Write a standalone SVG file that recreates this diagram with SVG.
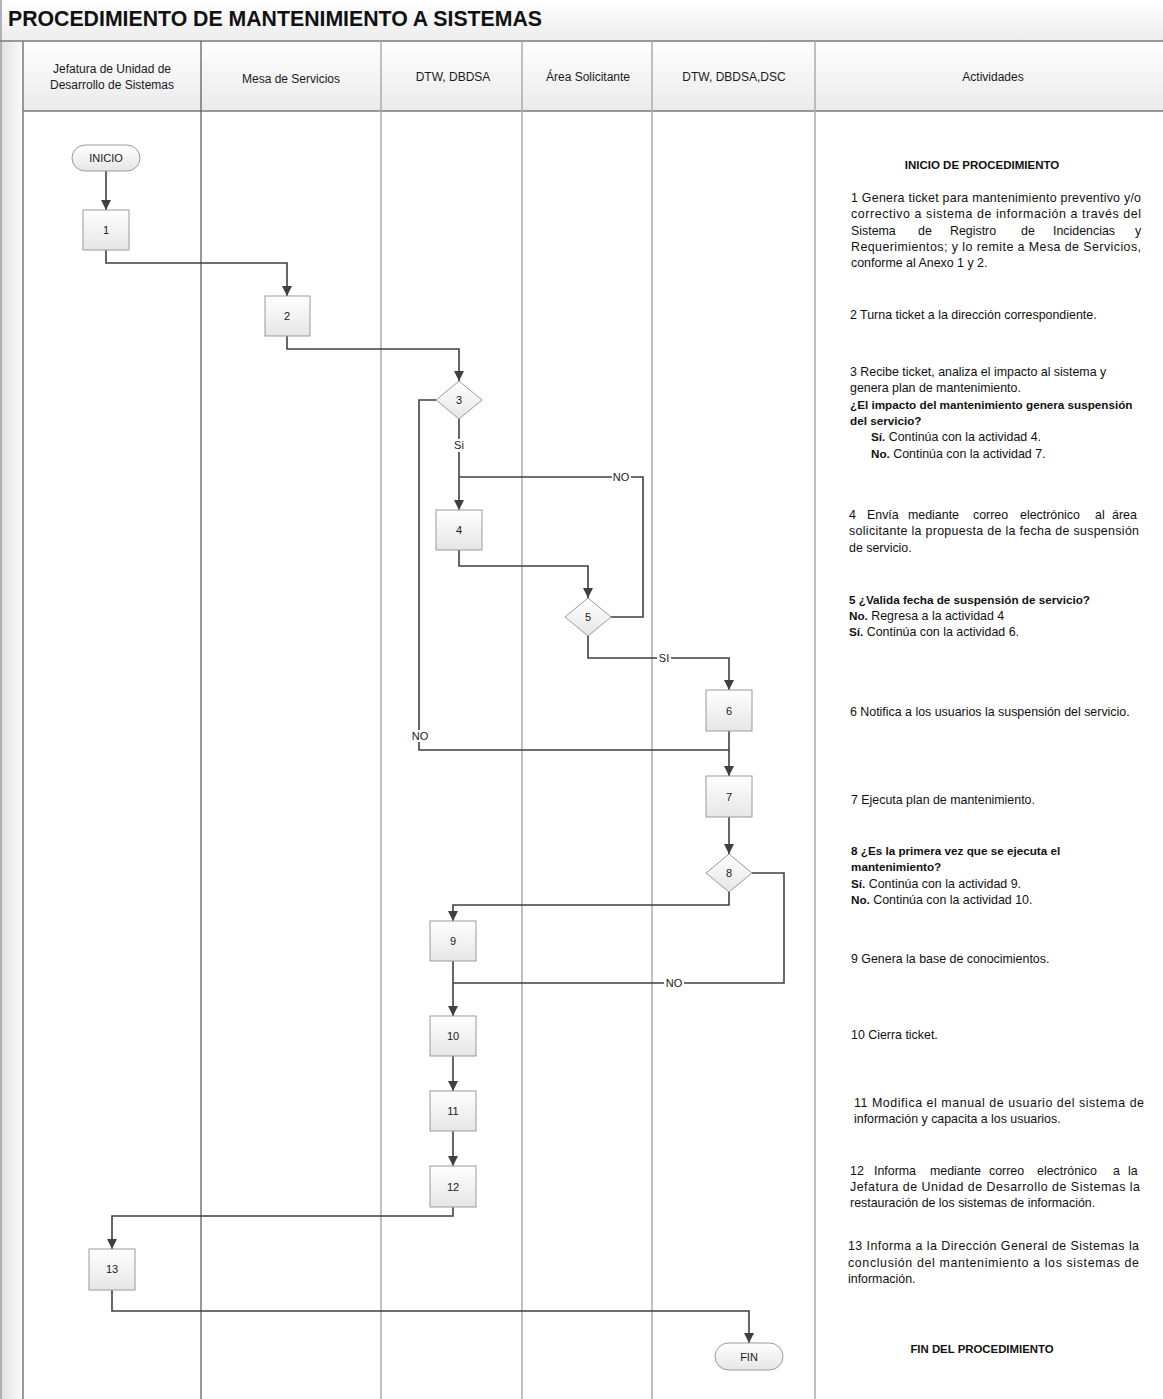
<svg xmlns="http://www.w3.org/2000/svg" width="1163" height="1399" viewBox="0 0 1163 1399">
<defs>
<linearGradient id="gTitle" x1="0" y1="0" x2="0" y2="1"><stop offset="0" stop-color="#ffffff"/><stop offset="1" stop-color="#ececec"/></linearGradient>
<linearGradient id="gHead" x1="0" y1="0" x2="0" y2="1"><stop offset="0" stop-color="#ffffff"/><stop offset="1" stop-color="#eaeaea"/></linearGradient>
<linearGradient id="gGut" x1="0" y1="0" x2="1" y2="0"><stop offset="0" stop-color="#e2e2e2"/><stop offset="1" stop-color="#fbfbfb"/></linearGradient>
<linearGradient id="gNode" x1="0" y1="0" x2="0" y2="1"><stop offset="0" stop-color="#ffffff"/><stop offset="1" stop-color="#e6e6e6"/></linearGradient>
<marker id="arr" viewBox="0 0 10 10" refX="10" refY="5" markerWidth="10" markerHeight="10" markerUnits="userSpaceOnUse" orient="auto"><path d="M0,0 L10,5 L0,10 z" fill="#404040"/></marker>
</defs>
<style>
.node{fill:url(#gNode);stroke:#9a9a9a;stroke-width:1}
.nt{font-family:"Liberation Sans",Arial,sans-serif;font-size:11px;fill:#1a1a1a;text-anchor:middle}
.ht{font-family:"Liberation Sans",Arial,sans-serif;font-size:12px;fill:#1a1a1a;text-anchor:middle}
.c{fill:none;stroke:#404040;stroke-width:1.6}
.ca{fill:none;stroke:#404040;stroke-width:1.6;marker-end:url(#arr)}
.lab{font-family:"Liberation Sans",Arial,sans-serif;font-size:11px;fill:#1a1a1a;text-anchor:middle}
.tx{font-family:"Liberation Sans",Arial,sans-serif;font-size:12.4px;fill:#111}
.b{font-weight:bold;font-size:11.7px}
.lane{stroke:#ababab;stroke-width:1.5}
</style>
<rect x="0" y="0" width="1163" height="1399" fill="#ffffff"/>
<rect x="1" y="0" width="1162" height="41" fill="url(#gTitle)"/>
<text x="8" y="26" font-family="Liberation Sans,Arial,sans-serif" font-size="21.2" font-weight="bold" fill="#111" textLength="534" lengthAdjust="spacingAndGlyphs">PROCEDIMIENTO DE MANTENIMIENTO A SISTEMAS</text>
<rect x="1" y="41" width="22" height="1358" fill="url(#gGut)"/>
<rect x="23" y="41" width="1140" height="70" fill="url(#gHead)"/>
<line x1="1" y1="0" x2="1" y2="1399" stroke="#9a9a9a" stroke-width="1.5"/>
<line x1="0" y1="41" x2="1163" y2="41" stroke="#7a7a7a" stroke-width="1.5"/>
<line x1="23" y1="111" x2="1163" y2="111" stroke="#7a7a7a" stroke-width="1.5"/>
<line x1="23" y1="41" x2="23" y2="1399" stroke="#7a7a7a" stroke-width="1.5"/>
<line x1="201" y1="41" x2="201" y2="1399" stroke="#555" stroke-width="1.2"/>
<line class="lane" x1="381" y1="41" x2="381" y2="1399"/>
<line class="lane" x1="522" y1="41" x2="522" y2="1399"/>
<line class="lane" x1="652" y1="41" x2="652" y2="1399"/>
<line class="lane" x1="815" y1="41" x2="815" y2="1399"/>
<g id="headers">
<text class="ht" x="112" y="73">Jefatura de Unidad de</text>
<text class="ht" x="112" y="89">Desarrollo de Sistemas</text>
<text class="ht" x="291" y="83">Mesa de Servicios</text>
<text class="ht" x="453" y="81">DTW, DBDSA</text>
<text class="ht" x="588" y="81">Área Solicitante</text>
<text class="ht" x="734" y="81">DTW, DBDSA,DSC</text>
<text class="ht" x="993" y="81">Actividades</text>
</g>
<g id="connectors">
<path class="ca" d="M106,171 L106,210"/>
<path class="ca" d="M106,250 L106,263 L287,263 L287,296"/>
<path class="ca" d="M287,336 L287,349 L459,349 L459,381"/>
<path class="ca" d="M459,419 L459,510"/>
<path class="c" d="M436,400 L419,400 L419,750 L729,750"/>
<path class="ca" d="M459,550 L459,566 L588,566 L588,598"/>
<path class="c" d="M611,617 L643,617 L643,477 L459,477"/>
<path class="ca" d="M588,636 L588,658 L729,658 L729,690"/>
<path class="ca" d="M729,731 L729,776"/>
<path class="ca" d="M729,817 L729,854"/>
<path class="ca" d="M729,892 L729,905 L453,905 L453,921"/>
<path class="c" d="M752,873 L784,873 L784,983 L453,983"/>
<path class="ca" d="M453,961 L453,1016"/>
<path class="ca" d="M453,1056 L453,1091"/>
<path class="ca" d="M453,1131 L453,1166"/>
<path class="ca" d="M453,1207 L453,1216 L112,1216 L112,1249"/>
<path class="ca" d="M112,1290 L112,1311 L749,1311 L749,1343"/>
<rect x="452" y="439" width="14" height="13" fill="#fff"/>
<text class="lab" x="459" y="449">Si</text>
<rect x="612" y="471" width="19" height="12" fill="#fff"/>
<text class="lab" x="621" y="481">NO</text>
<rect x="657" y="652" width="14" height="12" fill="#fff"/>
<text class="lab" x="664" y="662">SI</text>
<rect x="411" y="730" width="19" height="12" fill="#fff"/>
<text class="lab" x="420" y="740">NO</text>
<rect x="664" y="977" width="20" height="12" fill="#fff"/>
<text class="lab" x="674" y="987">NO</text>
</g>
<g id="n-inicio"><rect class="node" x="72" y="145" width="68" height="26" rx="13"/><text class="nt" x="106" y="162">INICIO</text></g>
<g id="n1"><rect class="node" x="83" y="210" width="46" height="40"/><text class="nt" x="106" y="234">1</text></g>
<g id="n2"><rect class="node" x="265" y="296" width="45" height="40"/><text class="nt" x="287" y="320">2</text></g>
<g id="n3"><path class="node" d="M459,381 L482,400 L459,419 L436,400 z"/><text class="nt" x="459" y="404">3</text></g>
<g id="n4"><rect class="node" x="436" y="510" width="46" height="40"/><text class="nt" x="459" y="534">4</text></g>
<g id="n5"><path class="node" d="M588,598 L611,617 L588,636 L565,617 z"/><text class="nt" x="588" y="621">5</text></g>
<g id="n6"><rect class="node" x="706" y="690" width="46" height="41"/><text class="nt" x="729" y="715">6</text></g>
<g id="n7"><rect class="node" x="706" y="776" width="46" height="41"/><text class="nt" x="729" y="801">7</text></g>
<g id="n8"><path class="node" d="M729,854 L752,873 L729,892 L706,873 z"/><text class="nt" x="729" y="877">8</text></g>
<g id="n9"><rect class="node" x="430" y="921" width="46" height="40"/><text class="nt" x="453" y="945">9</text></g>
<g id="n10"><rect class="node" x="430" y="1016" width="46" height="40"/><text class="nt" x="453" y="1040">10</text></g>
<g id="n11"><rect class="node" x="430" y="1091" width="46" height="40"/><text class="nt" x="453" y="1115">11</text></g>
<g id="n12"><rect class="node" x="430" y="1166" width="46" height="41"/><text class="nt" x="453" y="1191">12</text></g>
<g id="n13"><rect class="node" x="89" y="1249" width="46" height="41"/><text class="nt" x="112" y="1273">13</text></g>
<g id="n-fin"><rect class="node" x="715" y="1343" width="68" height="27" rx="13.5"/><text class="nt" x="749" y="1361">FIN</text></g>
<g id="actividades">
<text class="tx b" x="982" y="169" text-anchor="middle" style="font-size:11.5px">INICIO DE PROCEDIMIENTO</text>
<text class="tx" x="851" y="202" textLength="290" lengthAdjust="spacing">1 Genera ticket para mantenimiento preventivo y/o</text>
<text class="tx" x="851" y="218" textLength="290" lengthAdjust="spacing">correctivo a sistema de información a través del</text>
<text class="tx" y="235"><tspan x="851">Sistema</tspan><tspan x="918">de</tspan><tspan x="950">Registro</tspan><tspan x="1021">de</tspan><tspan x="1053">Incidencias</tspan><tspan x="1135">y</tspan></text>
<text class="tx" x="851" y="251" textLength="290" lengthAdjust="spacing">Requerimientos; y lo remite a Mesa de Servicios,</text>
<text class="tx" x="851" y="267">conforme al Anexo 1 y 2.</text>
<text class="tx" x="850" y="319">2 Turna ticket a la dirección correspondiente.</text>
<text class="tx" x="850" y="376">3 Recibe ticket,  analiza el impacto al sistema y</text>
<text class="tx" x="850" y="392">genera plan de mantenimiento.</text>
<text class="tx b" x="850" y="409">¿El impacto del mantenimiento genera suspensión</text>
<text class="tx b" x="850" y="425">del servicio?</text>
<text class="tx" x="871" y="441"><tspan class="b">Sí.</tspan> Continúa con la actividad 4.</text>
<text class="tx" x="871" y="458"><tspan class="b">No.</tspan> Continúa con la actividad 7.</text>
<text class="tx" y="519"><tspan x="849">4</tspan><tspan x="867">Envía</tspan><tspan x="908">mediante</tspan><tspan x="973">correo</tspan><tspan x="1020">electrónico</tspan><tspan x="1095">al</tspan><tspan x="1112">área</tspan></text>
<text class="tx" x="849" y="535" textLength="290" lengthAdjust="spacing">solicitante la propuesta de la fecha de suspensión</text>
<text class="tx" x="849" y="552">de servicio.</text>
<text class="tx b" x="849" y="604">5 ¿Valida fecha de suspensión de servicio?</text>
<text class="tx" x="849" y="620"><tspan class="b">No.</tspan> Regresa a la actividad 4</text>
<text class="tx" x="849" y="636"><tspan class="b">Sí.</tspan> Continúa con la actividad 6.</text>
<text class="tx" x="850" y="716">6  Notifica a los usuarios la suspensión del servicio.</text>
<text class="tx" x="851" y="804">7 Ejecuta plan de mantenimiento.</text>
<text class="tx b" x="851" y="855">8 ¿Es la primera vez que se ejecuta el</text>
<text class="tx b" x="851" y="871">mantenimiento?</text>
<text class="tx" x="851" y="888"><tspan class="b">Sí.</tspan> Continúa con la actividad 9.</text>
<text class="tx" x="851" y="904"><tspan class="b">No.</tspan> Continúa con la actividad 10.</text>
<text class="tx" x="851" y="963">9 Genera la base de conocimientos.</text>
<text class="tx" x="851" y="1039">10 Cierra ticket.</text>
<text class="tx" x="854" y="1107" textLength="290" lengthAdjust="spacing">11 Modifica el manual de usuario del sistema de</text>
<text class="tx" x="854" y="1123">información y capacita a los usuarios.</text>
<text class="tx" y="1175"><tspan x="850">12</tspan><tspan x="874">Informa</tspan><tspan x="930">mediante</tspan><tspan x="989">correo</tspan><tspan x="1037">electrónico</tspan><tspan x="1113">a</tspan><tspan x="1128">la</tspan></text>
<text class="tx" x="850" y="1191" textLength="290" lengthAdjust="spacing">Jefatura de Unidad de Desarrollo de Sistemas la</text>
<text class="tx" x="850" y="1207">restauración de los sistemas de información.</text>
<text class="tx" x="848" y="1250" textLength="291" lengthAdjust="spacing">13 Informa a la Dirección General de Sistemas la</text>
<text class="tx" x="848" y="1267" textLength="291" lengthAdjust="spacing">conclusión del mantenimiento a los sistemas de</text>
<text class="tx" x="848" y="1283">información.</text>
<text class="tx b" x="982" y="1353" text-anchor="middle" style="font-size:11.4px">FIN DEL PROCEDIMIENTO</text>
</g>
</svg>
